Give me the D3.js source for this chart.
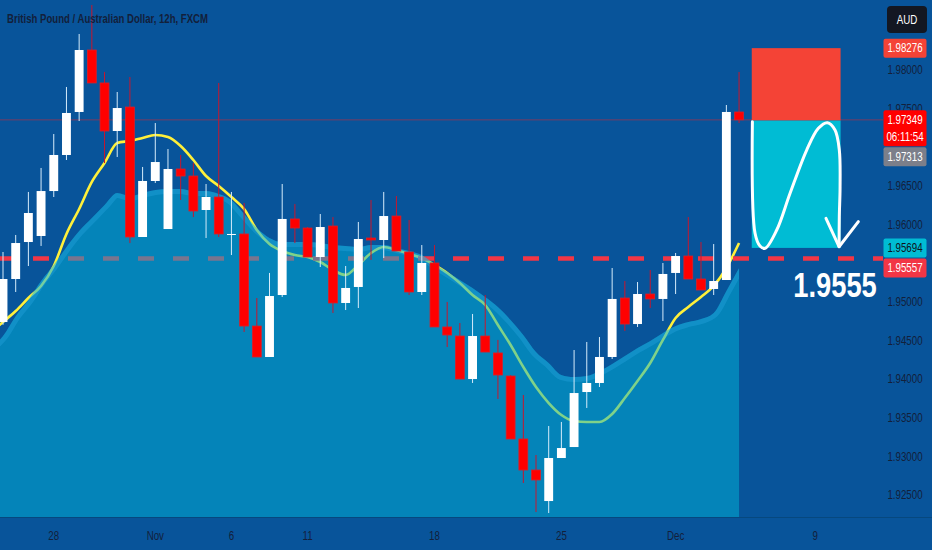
<!DOCTYPE html>
<html><head><meta charset="utf-8">
<script src="https://cdn.jsdelivr.net/npm/d3@7"></script>
<style>html,body{margin:0;padding:0;background:#08549a;overflow:hidden}svg{display:block}</style>
</head><body>
<svg id="chart" width="932" height="550"></svg>
<script>
// ---------------- DATA ----------------
const chartTitle = "British Pound / Australian Dollar, 12h, FXCM";
const currencyLabel = "AUD";

const candleOpen = [1.94736,1.95292,1.95770,1.95848,1.96429,1.96895,1.97451,1.98252,1.97826,1.97205,
1.97515,1.95835,1.96559,1.95938,1.96714,1.96623,1.96184,1.96352,1.95870,1.95874,
1.94684,1.94284,1.95085,1.96068,1.95951,1.95576,1.95977,1.94982,1.95189,1.95822,
1.95796,1.96106,1.95641,1.95124,1.95499,1.94672,1.94555,1.93999,1.94555,1.94336,
1.94038,1.93224,1.92823,1.92422,1.92978,1.93120,1.93831,1.93948,1.94284,1.95046,
1.94710,1.95098,1.95034,1.95370,1.95589,1.95292,1.95163,1.95279,1.97451];
const candleHigh = [1.95641,1.95861,1.96417,1.96727,1.97166,1.97774,1.98459,1.98834,1.97968,1.97709,
1.97903,1.96740,1.97308,1.96972,1.96895,1.96791,1.96520,1.97826,1.96417,1.96274,
1.95046,1.95370,1.96520,1.96261,1.95964,1.96132,1.96093,1.95460,1.96029,1.96313,
1.96417,1.96365,1.96055,1.95731,1.95731,1.94995,1.94723,1.94840,1.95085,1.94504,
1.94050,1.93793,1.93017,1.93392,1.93444,1.94374,1.94478,1.94542,1.95434,1.95266,
1.95253,1.95408,1.95499,1.95628,1.96093,1.95770,1.95744,1.97541,1.97968];
const candleLow = [1.94700,1.95124,1.95460,1.95719,1.96352,1.96830,1.97334,1.97826,1.96791,1.96869,
1.95757,1.95835,1.96533,1.95938,1.96313,1.96093,1.95822,1.95835,1.95602,1.94607,
1.94284,1.94284,1.95059,1.95757,1.95576,1.95447,1.94853,1.94891,1.94917,1.95538,
1.95563,1.95654,1.95085,1.95085,1.94672,1.94413,1.93999,1.93948,1.94348,1.93741,
1.93224,1.92655,1.92280,1.92267,1.92978,1.93120,1.93625,1.93896,1.94258,1.94620,
1.94672,1.94917,1.94749,1.95098,1.95292,1.95150,1.95085,1.95279,1.97308];
const candleClose = [1.95292,1.95757,1.96145,1.96429,1.96895,1.97438,1.98252,1.97826,1.97205,1.97502,
1.95835,1.96559,1.96804,1.96714,1.96623,1.96171,1.96352,1.95874,1.95874,1.94684,
1.94284,1.95072,1.96068,1.95951,1.95576,1.95964,1.94982,1.95176,1.95809,1.95796,
1.96106,1.95654,1.95124,1.95499,1.94672,1.94568,1.93999,1.94555,1.94348,1.94051,
1.93224,1.92823,1.92694,1.92978,1.93107,1.93818,1.93948,1.94284,1.95034,1.94710,
1.95098,1.95034,1.95357,1.95589,1.95292,1.95150,1.95266,1.97451,1.97349];

// moving average line and shaded band, first value belongs to candle index -1 (just off the left edge)
const seriesStartIndex = -1;
const maValues = [1.94594,1.94736,1.94878,1.95046,1.95202,1.95460,1.95874,1.96197,1.96546,1.96791,1.97050,
1.97076,1.97115,1.97153,1.97127,1.97011,1.96830,1.96623,1.96494,1.96352,1.96197,
1.95925,1.95744,1.95654,1.95602,1.95576,1.95512,1.95408,1.95344,1.95473,1.95628,
1.95706,1.95667,1.95615,1.95563,1.95473,1.95370,1.95240,1.95085,1.94956,1.94697,
1.94439,1.94155,1.93896,1.93689,1.93534,1.93457,1.93444,1.93444,1.93547,1.93754,
1.93974,1.94206,1.94504,1.94788,1.94930,1.95059,1.95202,1.95434,1.95757];
const bandValues = [1.94400,1.94555,1.94814,1.95021,1.95266,1.95473,1.95706,1.95912,1.96081,1.96249,1.96404,
1.96365,1.96404,1.96442,1.96455,1.96455,1.96429,1.96429,1.96391,1.96313,1.96132,
1.95951,1.95822,1.95770,1.95770,1.95770,1.95757,1.95731,1.95719,1.95706,1.95731,
1.95731,1.95693,1.95654,1.95602,1.95486,1.95383,1.95279,1.95176,1.95059,1.94930,
1.94762,1.94568,1.94348,1.94206,1.94051,1.94025,1.94038,1.94103,1.94193,1.94297,
1.94400,1.94491,1.94594,1.94684,1.94736,1.94775,1.94853,1.95137,1.95434];

const dateTickIndex = [4, 12, 18, 24, 34, 44, 53, 64];
const dateTickLabels = ["28", "Nov", "6", "11", "18", "25", "Dec", "9"];
// 1.97000 and 1.95500 are hidden behind price tags in the reference
const priceTicks = [1.98, 1.975, 1.965, 1.96, 1.95, 1.945, 1.94, 1.935, 1.93, 1.925];

const lastPrice = 1.97349, countdownText = "06:11:54", bidPrice = 1.97313;
const stopLoss = 1.98276, entryPrice = 1.97340, takeProfit = 1.95694;
const levelPrice = 1.95557, levelText = "1.9555";
const tradeStartIndex = 59, tradeEndIndex = 66;

// hand-drawn curve annotation (candle index, price)
const curveIndex = [59.05,59.26,59.65,60.05,60.97,62.02,63.33,64.25,64.96,65.56,65.90,65.96,65.90,65.88];
const curvePrice = [1.97325,1.95883,1.95719,1.95689,1.95925,1.96400,1.96959,1.97240,1.97312,1.97218,1.96959,1.96485,1.96097,1.95709];
const arrowIndex = [64.85, 65.88, 67.40];
const arrowPrice = [1.96077, 1.95709, 1.96033];

// ---------------- CHART ----------------
const W = 932, H = 550, plotBottom = 517, axisX = 905, squeeze = 0.78;
const svg = d3.select("#chart");
const x = d3.scaleLinear().domain([0, 64]).range([3, 815.2]);
const y = d3.scaleLinear().domain([1.925, 1.98]).range([495, 69.5]);
const fmt = d3.format(".5f");
const font = "'Liberation Sans', Arial, 'DejaVu Sans', sans-serif";

function txt(g, str, tx, ty, size, fill, anchor, weight) {
  return g.append("text").attr("transform", `translate(${tx},${ty}) scale(${squeeze},1)`)
    .attr("text-anchor", anchor || "start").attr("font-family", font)
    .attr("font-size", size).attr("font-weight", weight || "normal")
    .attr("fill", fill).text(str);
}

svg.append("rect").attr("width", W).attr("height", H).attr("fill", "#08549a");

const candles = candleOpen.map((o, i) => ({i, o, h: candleHigh[i], l: candleLow[i], c: candleClose[i]}));
const ma = maValues.map((v, k) => ({i: k + seriesStartIndex, v}));
const band = bandValues.map((v, k) => ({i: k + seriesStartIndex, v}));

// current price line
svg.append("line").attr("x1", 0).attr("x2", 883).attr("y1", y(lastPrice)).attr("y2", y(lastPrice))
  .attr("stroke", "#ff2020").attr("stroke-opacity", 0.45).attr("stroke-width", 1);

// moving average
svg.append("path").datum(ma)
  .attr("d", d3.line().x(d => x(d.i)).y(d => y(d.v)).curve(d3.curveMonotoneX))
  .attr("fill", "none").attr("stroke", "#fff03a").attr("stroke-width", 2.6);

// horizontal level (dashed)
svg.append("line").attr("x1", 0).attr("x2", 883).attr("y1", y(levelPrice)).attr("y2", y(levelPrice))
  .attr("stroke", "#f23645").attr("stroke-width", 4.5).attr("stroke-dasharray", "16 19").attr("stroke-dashoffset", 2);

// shaded area
const areaGen = d3.area().x(d => x(d.i)).y0(plotBottom).y1(d => y(d.v)).curve(d3.curveMonotoneX);
svg.append("clipPath").attr("id", "areaClip").append("path").datum(band).attr("d", areaGen);
svg.append("path").datum(band).attr("d", areaGen).attr("fill", "rgb(0,180,215)").attr("fill-opacity", 0.5);
svg.append("path").datum(band).attr("clip-path", "url(#areaClip)")
  .attr("d", d3.line().x(d => x(d.i)).y(d => y(d.v)).curve(d3.curveMonotoneX))
  .attr("fill", "none").attr("stroke", "rgb(70,195,253)").attr("stroke-opacity", 0.2).attr("stroke-width", 10);

svg.append("line").attr("x1", 0).attr("x2", W).attr("y1", plotBottom + 0.5).attr("y2", plotBottom + 0.5)
  .attr("stroke", "#06487f").attr("stroke-width", 1);

// trade box
svg.append("rect").attr("x", x(tradeStartIndex)).attr("width", x(tradeEndIndex) - x(tradeStartIndex))
  .attr("y", y(stopLoss)).attr("height", y(entryPrice) - y(stopLoss)).attr("fill", "#f44336");
svg.append("rect").attr("x", x(tradeStartIndex)).attr("width", x(tradeEndIndex) - x(tradeStartIndex))
  .attr("y", y(entryPrice)).attr("height", y(takeProfit) - y(entryPrice)).attr("fill", "#00bcd4");

// candles
const step = x(1) - x(0), bw = step * 0.7;
const cg = svg.append("g");
cg.selectAll("line.wick").data(candles).join("line")
  .attr("x1", d => x(d.i)).attr("x2", d => x(d.i)).attr("y1", d => y(d.h)).attr("y2", d => y(d.l))
  .attr("stroke", d => d.c >= d.o ? "#d6ecfb" : "#c8162e").attr("stroke-width", 1);
cg.selectAll("rect.body").data(candles).join("rect")
  .attr("x", d => x(d.i) - bw / 2).attr("width", bw)
  .attr("y", d => y(Math.max(d.o, d.c)))
  .attr("height", d => Math.max(1, Math.abs(y(d.o) - y(d.c))))
  .attr("fill", d => d.c >= d.o ? "#ffffff" : "#ff0000")
  .attr("stroke", d => d.c >= d.o ? "none" : "#d8202a").attr("stroke-width", 0.8);

// hand-drawn curve + arrow
const curvePts = curveIndex.map((v, k) => [x(v), y(curvePrice[k])]);
svg.append("path").attr("d", d3.line().curve(d3.curveCatmullRom)(curvePts))
  .attr("fill", "none").attr("stroke", "#ffffff").attr("stroke-width", 3).attr("stroke-linecap", "round");
const arrowPts = arrowIndex.map((v, k) => [x(v), y(arrowPrice[k])]);
svg.append("path").attr("d", d3.line()(arrowPts))
  .attr("fill", "none").attr("stroke", "#ffffff").attr("stroke-width", 3)
  .attr("stroke-linecap", "round").attr("stroke-linejoin", "round");

// big level text
txt(svg, levelText, x(68.85), y(levelPrice) + 39, 35, "#ffffff", "end", "bold");

// price axis ticks
const tickColor = "#13203a";
priceTicks.forEach(p => txt(svg, fmt(p), axisX, y(p) + 4.4, 12.5, tickColor, "middle"));

// price tags
const tags = [
  {price: stopLoss, lines: [fmt(stopLoss)], fill: "#f44336", color: "#ffffff"},
  {price: lastPrice, lines: [fmt(lastPrice), countdownText], fill: "#ff0000", color: "#ffffff"},
  {price: bidPrice, lines: [fmt(bidPrice)], fill: "#7c7f8a", color: "#ffffff"},
  {price: takeProfit, lines: [fmt(takeProfit)], fill: "#00bcd4", color: "#0d1420"},
  {price: levelPrice, lines: [fmt(levelPrice)], fill: "#f23645", color: "#ffffff"}
].sort((a, b) => b.price - a.price);
let prevBottom = -Infinity;
tags.forEach(t => {
  const h = t.lines.length === 1 ? 19 : 36;
  let top = y(t.price) - 9.5;
  if (top < prevBottom + 1) top = prevBottom + 1;
  prevBottom = top + h;
  svg.append("rect").attr("x", 883.5).attr("y", top).attr("width", 43).attr("height", h)
    .attr("rx", 2).attr("fill", t.fill);
  t.lines.forEach((s, k) => txt(svg, s, axisX, top + 13.8 + k * 16.5, 12.5, t.color, "middle"));
});

// currency box
svg.append("rect").attr("x", 887).attr("y", 6).attr("width", 40).attr("height", 27).attr("rx", 4).attr("fill", "#131722");
txt(svg, currencyLabel, 907, 24, 12.5, "#ffffff", "middle");

// time axis
dateTickIndex.forEach((idx, k) => txt(svg, dateTickLabels[k], x(idx), 539.5, 12.5, tickColor, "middle"));

// title
svg.append("text").attr("x", 7).attr("y", 23).attr("font-family", font).attr("font-size", 13)
  .attr("font-weight", "bold").attr("fill", "#13203a")
  .attr("textLength", 201).attr("lengthAdjust", "spacingAndGlyphs").text(chartTitle);
</script>
</body></html>
